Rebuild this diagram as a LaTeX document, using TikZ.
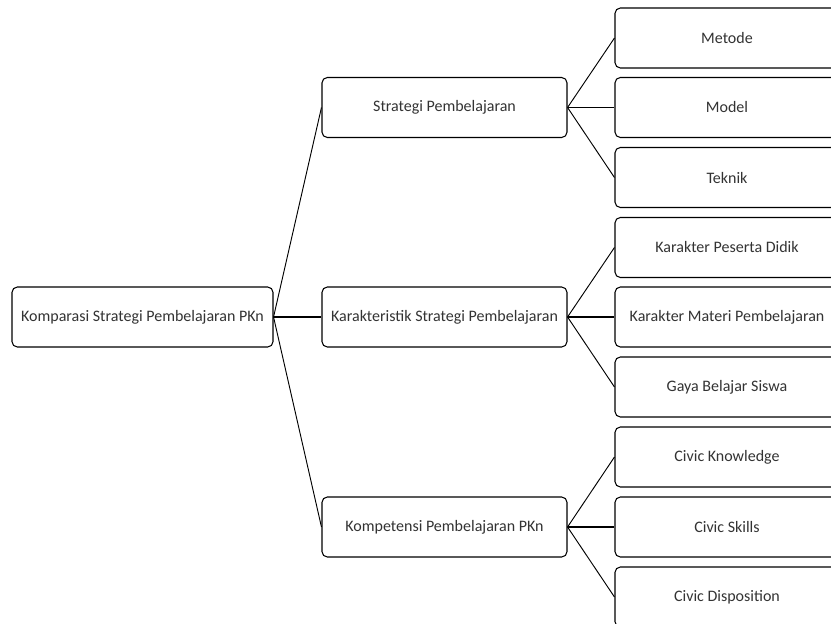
\documentclass[tikz,border=0pt]{standalone}
\usepackage{fontspec}
\setmainfont{Carlito}
\definecolor{txt}{HTML}{333333}
\begin{document}
\begin{tikzpicture}[x=0.75pt,y=-0.75pt,
  box/.style={draw=black,line width=0.8pt,rounded corners=4pt,fill=white,
    text=txt,font=\fontsize{12}{14}\selectfont,minimum height=45pt,inner sep=0pt},
  rootbox/.style={box,minimum width=195.75pt},
  midbox/.style={box,minimum width=183.75pt},
  leafbox/.style={box,minimum width=168pt},
  hline/.style={line width=1.3pt},
  dline/.style={line width=0.7pt}]
\useasboundingbox (0,0) rectangle (831,624);
\node[rootbox] (root) at (142.5,317) {Komparasi Strategi Pembelajaran PKn};
\node[midbox] (m1) at (444.5,107.5) {Strategi Pembelajaran};
\node[midbox] (m2) at (444.5,317) {Karakteristik Strategi Pembelajaran};
\node[midbox] (m3) at (444.5,527) {Kompetensi Pembelajaran PKn};
\node[leafbox] (l1) at (727,38) {Metode};
\node[leafbox] (l2) at (727,107.5) {Model};
\node[leafbox] (l3) at (727,177.5) {Teknik};
\node[leafbox] (l4) at (727,247.5) {Karakter Peserta Didik};
\node[leafbox] (l5) at (727,317) {Karakter Materi Pembelajaran};
\node[leafbox] (l6) at (727,387) {Gaya Belajar Siswa};
\node[leafbox] (l7) at (727,457) {Civic Knowledge};
\node[leafbox] (l8) at (727,527) {Civic Skills};
\node[leafbox] (l9) at (727,597) {Civic Disposition};
\draw[dline] (root.east) -- (m1.west);
\draw[hline] (root.east) -- (m2.west);
\draw[dline] (root.east) -- (m3.west);
\draw[dline] (m1.east) -- (l1.west);
\draw[hline] (m1.east) -- (l2.west);
\draw[dline] (m1.east) -- (l3.west);
\draw[dline] (m2.east) -- (l4.west);
\draw[hline] (m2.east) -- (l5.west);
\draw[dline] (m2.east) -- (l6.west);
\draw[dline] (m3.east) -- (l7.west);
\draw[hline] (m3.east) -- (l8.west);
\draw[dline] (m3.east) -- (l9.west);
\end{tikzpicture}
\end{document}
